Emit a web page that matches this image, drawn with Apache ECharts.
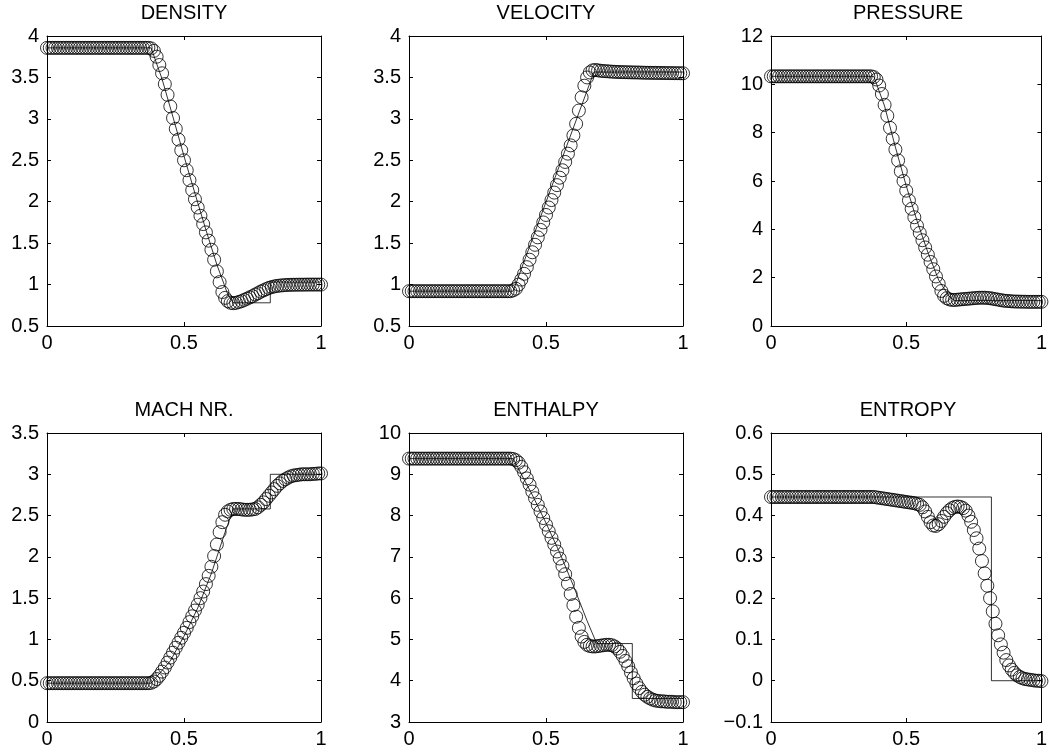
<!DOCTYPE html>
<html><head><meta charset="utf-8">
<script src="https://cdn.jsdelivr.net/npm/echarts@6/dist/echarts.min.js"></script>
<style>html,body{margin:0;padding:0;background:#fff}#c{width:1050px;height:754px}</style>
</head><body><div id="c"></div>
<script>
// ---- data ----
const titles = ['DENSITY', 'VELOCITY', 'PRESSURE', 'MACH NR.', 'ENTHALPY', 'ENTROPY'];
const xTickLabels = ['0', '0.5', '1'];
const gridStep = 0.01; // numerical points at x = 0, 0.01, ..., 1

const density = [
  3.857,3.857,3.857,3.857,3.857,3.857,3.857,3.857,3.857,3.857,
  3.857,3.857,3.857,3.857,3.857,3.857,3.857,3.857,3.857,3.857,
  3.857,3.857,3.857,3.857,3.857,3.857,3.857,3.857,3.857,3.857,
  3.857,3.857,3.857,3.857,3.857,3.857,3.857,3.857,3.85,3.82,
  3.75,3.65,3.55,3.42,3.29,3.15,3.01,2.88,2.75,2.62,
  2.50,2.38,2.26,2.14,2.03,1.93,1.83,1.73,1.63,1.53,
  1.42,1.30,1.16,1.03,0.91,0.84,0.80,0.78,0.775,0.78,
  0.79,0.80,0.815,0.83,0.845,0.86,0.88,0.895,0.915,0.93,
  0.945,0.96,0.97,0.978,0.984,0.988,0.991,0.994,0.996,0.997,
  0.998,0.998,0.999,0.999,0.999,1.0,1.0,1.0,1.0,1.0,1.0
];
const velocity = [
  0.92,0.92,0.92,0.92,0.92,0.92,0.92,0.92,0.92,0.92,
  0.92,0.92,0.92,0.92,0.92,0.92,0.92,0.92,0.92,0.92,
  0.92,0.92,0.92,0.92,0.92,0.92,0.92,0.92,0.92,0.92,
  0.92,0.92,0.92,0.92,0.92,0.92,0.92,0.92,0.93,0.95,
  1.00,1.06,1.13,1.21,1.30,1.39,1.48,1.57,1.66,1.75,
  1.84,1.93,2.02,2.11,2.20,2.29,2.38,2.48,2.58,2.68,
  2.80,2.94,3.10,3.26,3.40,3.50,3.56,3.585,3.59,3.585,
  3.58,3.577,3.575,3.572,3.57,3.568,3.566,3.565,3.564,3.563,
  3.562,3.561,3.56,3.56,3.559,3.558,3.557,3.556,3.556,3.555,
  3.555,3.554,3.554,3.553,3.553,3.552,3.552,3.551,3.551,3.55,3.55
];
const pressure = [
  10.33,10.33,10.33,10.33,10.33,10.33,10.33,10.33,10.33,10.33,
  10.33,10.33,10.33,10.33,10.33,10.33,10.33,10.33,10.33,10.33,
  10.33,10.33,10.33,10.33,10.33,10.33,10.33,10.33,10.33,10.33,
  10.33,10.33,10.33,10.33,10.33,10.33,10.33,10.33,10.3,10.2,
  9.95,9.6,9.15,8.7,8.2,7.75,7.3,6.85,6.4,6.0,
  5.6,5.2,4.85,4.5,4.15,3.85,3.55,3.25,2.95,2.65,
  2.35,2.05,1.75,1.45,1.25,1.15,1.1,1.08,1.08,1.09,
  1.1,1.11,1.12,1.13,1.14,1.15,1.16,1.17,1.17,1.17,
  1.16,1.15,1.13,1.11,1.09,1.07,1.05,1.04,1.03,1.02,
  1.015,1.01,1.01,1.005,1.005,1.0,1.0,1.0,1.0,1.0,1.0
];
const mach = [
  0.47,0.47,0.47,0.47,0.47,0.47,0.47,0.47,0.47,0.47,
  0.47,0.47,0.47,0.47,0.47,0.47,0.47,0.47,0.47,0.47,
  0.47,0.47,0.47,0.47,0.47,0.47,0.47,0.47,0.47,0.47,
  0.47,0.47,0.47,0.47,0.47,0.47,0.47,0.47,0.475,0.49,
  0.52,0.56,0.61,0.66,0.72,0.78,0.84,0.90,0.96,1.02,
  1.08,1.14,1.21,1.28,1.35,1.42,1.50,1.58,1.67,1.77,
  1.88,2.01,2.15,2.30,2.42,2.51,2.55,2.57,2.58,2.58,
  2.58,2.575,2.57,2.57,2.57,2.575,2.58,2.60,2.63,2.66,
  2.70,2.74,2.78,2.82,2.86,2.89,2.92,2.94,2.96,2.975,
  2.985,2.99,2.995,3.0,3.0,3.0,3.0,3.005,3.005,3.01,3.01
];
const enthalpy = [
  9.38,9.38,9.38,9.38,9.38,9.38,9.38,9.38,9.38,9.38,
  9.38,9.38,9.38,9.38,9.38,9.38,9.38,9.38,9.38,9.38,
  9.38,9.38,9.38,9.38,9.38,9.38,9.38,9.38,9.38,9.38,
  9.38,9.38,9.38,9.38,9.38,9.38,9.38,9.38,9.37,9.34,
  9.28,9.18,9.05,8.9,8.75,8.58,8.42,8.26,8.1,7.94,
  7.78,7.62,7.46,7.3,7.13,6.96,6.78,6.58,6.35,6.1,
  5.83,5.55,5.28,5.07,4.94,4.87,4.84,4.83,4.83,4.84,
  4.85,4.86,4.87,4.87,4.86,4.83,4.78,4.7,4.6,4.48,
  4.35,4.2,4.06,3.93,3.82,3.73,3.66,3.61,3.57,3.54,
  3.52,3.51,3.5,3.5,3.49,3.49,3.49,3.48,3.48,3.48,3.48
];
const entropy = [
  0.445,0.445,0.445,0.445,0.445,0.445,0.445,0.445,0.445,0.445,
  0.445,0.445,0.445,0.445,0.445,0.445,0.445,0.445,0.445,0.445,
  0.445,0.445,0.445,0.445,0.445,0.445,0.445,0.445,0.445,0.445,
  0.445,0.445,0.445,0.445,0.445,0.445,0.445,0.445,0.445,0.444,
  0.443,0.442,0.441,0.44,0.439,0.438,0.437,0.436,0.435,0.434,
  0.433,0.432,0.431,0.43,0.428,0.426,0.42,0.41,0.397,0.384,
  0.376,0.375,0.379,0.387,0.397,0.406,0.413,0.418,0.421,0.422,
  0.421,0.418,0.412,0.40,0.385,0.365,0.345,0.32,0.29,0.26,
  0.23,0.2,0.168,0.138,0.11,0.088,0.068,0.05,0.037,0.027,
  0.019,0.013,0.009,0.006,0.004,0.003,0.002,0.001,0.0,0.0,-0.001
];

// exact solution (thin line), breakpoints
const densityExactX  = [0, 0.38, 0.42, 0.46, 0.50, 0.54, 0.58, 0.62, 0.66, 0.68, 0.815, 0.815, 1];
const densityExactY  = [3.857, 3.857, 3.48, 3.02, 2.55, 2.10, 1.66, 1.24, 0.88, 0.78, 0.78, 1.03, 1.03];
const velocityExactX = [0, 0.38, 0.675, 1];
const velocityExactY = [0.92, 0.92, 3.565, 3.565];
const pressureExactX = [0, 0.38, 0.42, 0.46, 0.50, 0.54, 0.58, 0.62, 0.66, 0.68, 1];
const pressureExactY = [10.33, 10.33, 9.1, 7.4, 5.8, 4.35, 3.05, 1.9, 1.2, 1.05, 1.05];
const machExactX     = [0, 0.38, 0.45, 0.50, 0.55, 0.60, 0.65, 0.68, 0.815, 0.815, 1];
const machExactY     = [0.47, 0.47, 0.74, 1.04, 1.38, 1.80, 2.30, 2.58, 2.58, 3.0, 3.0];
const enthalpyExactX = [0, 0.38, 0.45, 0.50, 0.55, 0.60, 0.65, 0.685, 0.815, 0.815, 1];
const enthalpyExactY = [9.38, 9.38, 8.5, 7.82, 7.1, 6.3, 5.45, 4.9, 4.9, 3.57, 3.57];
const entropyExactX  = [0, 0.815, 0.815, 1];
const entropyExactY  = [0.445, 0.445, 0, 0];

// y-axis ranges [min, max, interval]
const yRanges = [[0.5, 4, 0.5], [0.5, 4, 0.5], [0, 12, 2], [0, 3.5, 0.5], [3, 10, 1], [-0.1, 0.6, 0.1]];

// ---- build chart ----
const panels = [
  [density, densityExactX, densityExactY],
  [velocity, velocityExactX, velocityExactY],
  [pressure, pressureExactX, pressureExactY],
  [mach, machExactX, machExactY],
  [enthalpy, enthalpyExactX, enthalpyExactY],
  [entropy, entropyExactX, entropyExactY]
];
const LEFTS = [47, 409, 771], TOPS = [36, 433], HEIGHTS = [290, 289], W = 274;
const FONT = 'Liberation Sans, Arial, Helvetica, sans-serif';
const FS = 20;

const grid = [], xAxis = [], yAxis = [], series = [], title = [];
const fmt = v => String(+(+v).toFixed(3)).replace('-', '\u2212');
panels.forEach((p, i) => {
  const r = Math.floor(i / 3), c = i % 3;
  grid.push({left: LEFTS[c], top: TOPS[r], width: W, height: HEIGHTS[r], containLabel: false});
  title.push({
    text: titles[i], left: LEFTS[c] + W / 2, top: r === 0 ? 3 : 400, textAlign: 'center', padding: 0,
    textStyle: {fontFamily: FONT, fontSize: FS, fontWeight: 'normal', color: '#000'}
  });
  const line = {show: true, onZero: false, lineStyle: {color: '#000', width: 1}};
  const tick = {show: true, inside: true, length: 4, lineStyle: {color: '#000', width: 1}};
  xAxis.push({
    gridIndex: i, type: 'value', position: 'bottom', min: 0, max: 1, interval: 0.5,
    axisLine: line, axisTick: tick, splitLine: {show: false},
    axisLabel: {show: true, margin: 7, color: '#000', fontFamily: FONT, fontSize: FS,
      formatter: v => xTickLabels[Math.round(v * 2)]}
  });
  xAxis.push({
    gridIndex: i, type: 'value', position: 'top', min: 0, max: 1, interval: 0.5,
    axisLine: line, axisTick: tick, splitLine: {show: false}, axisLabel: {show: false}
  });
  const [mn, mx, iv] = yRanges[i];
  yAxis.push({
    gridIndex: i, type: 'value', position: 'left', min: mn, max: mx, interval: iv,
    axisLine: line, axisTick: tick, splitLine: {show: false},
    axisLabel: {show: true, margin: 8, color: '#000', fontFamily: FONT, fontSize: FS, formatter: fmt}
  });
  yAxis.push({
    gridIndex: i, type: 'value', position: 'right', min: mn, max: mx, interval: iv,
    axisLine: line, axisTick: tick, splitLine: {show: false}, axisLabel: {show: false}
  });
  const vals = p[0], ex = p[1], ey = p[2];
  series.push({
    type: 'line', xAxisIndex: 2 * i, yAxisIndex: 2 * i,
    data: ex.map((x, k) => [x, ey[k]]),
    symbol: 'none', lineStyle: {color: '#000', width: 0.8}, clip: false, silent: true, z: 2
  });
  series.push({
    type: 'scatter', xAxisIndex: 2 * i, yAxisIndex: 2 * i,
    data: vals.map((v, k) => [+(k * gridStep).toFixed(2), v]),
    symbol: 'circle', symbolSize: 13, clip: false, silent: true, z: 3,
    itemStyle: {color: 'rgba(0,0,0,0)', borderColor: '#000', borderWidth: 1}
  });
});

const chart = echarts.init(document.getElementById('c'), null, {renderer: 'canvas'});
chart.setOption({animation: false, backgroundColor: '#fff', title, grid, xAxis, yAxis, series});
</script>
</body></html>
